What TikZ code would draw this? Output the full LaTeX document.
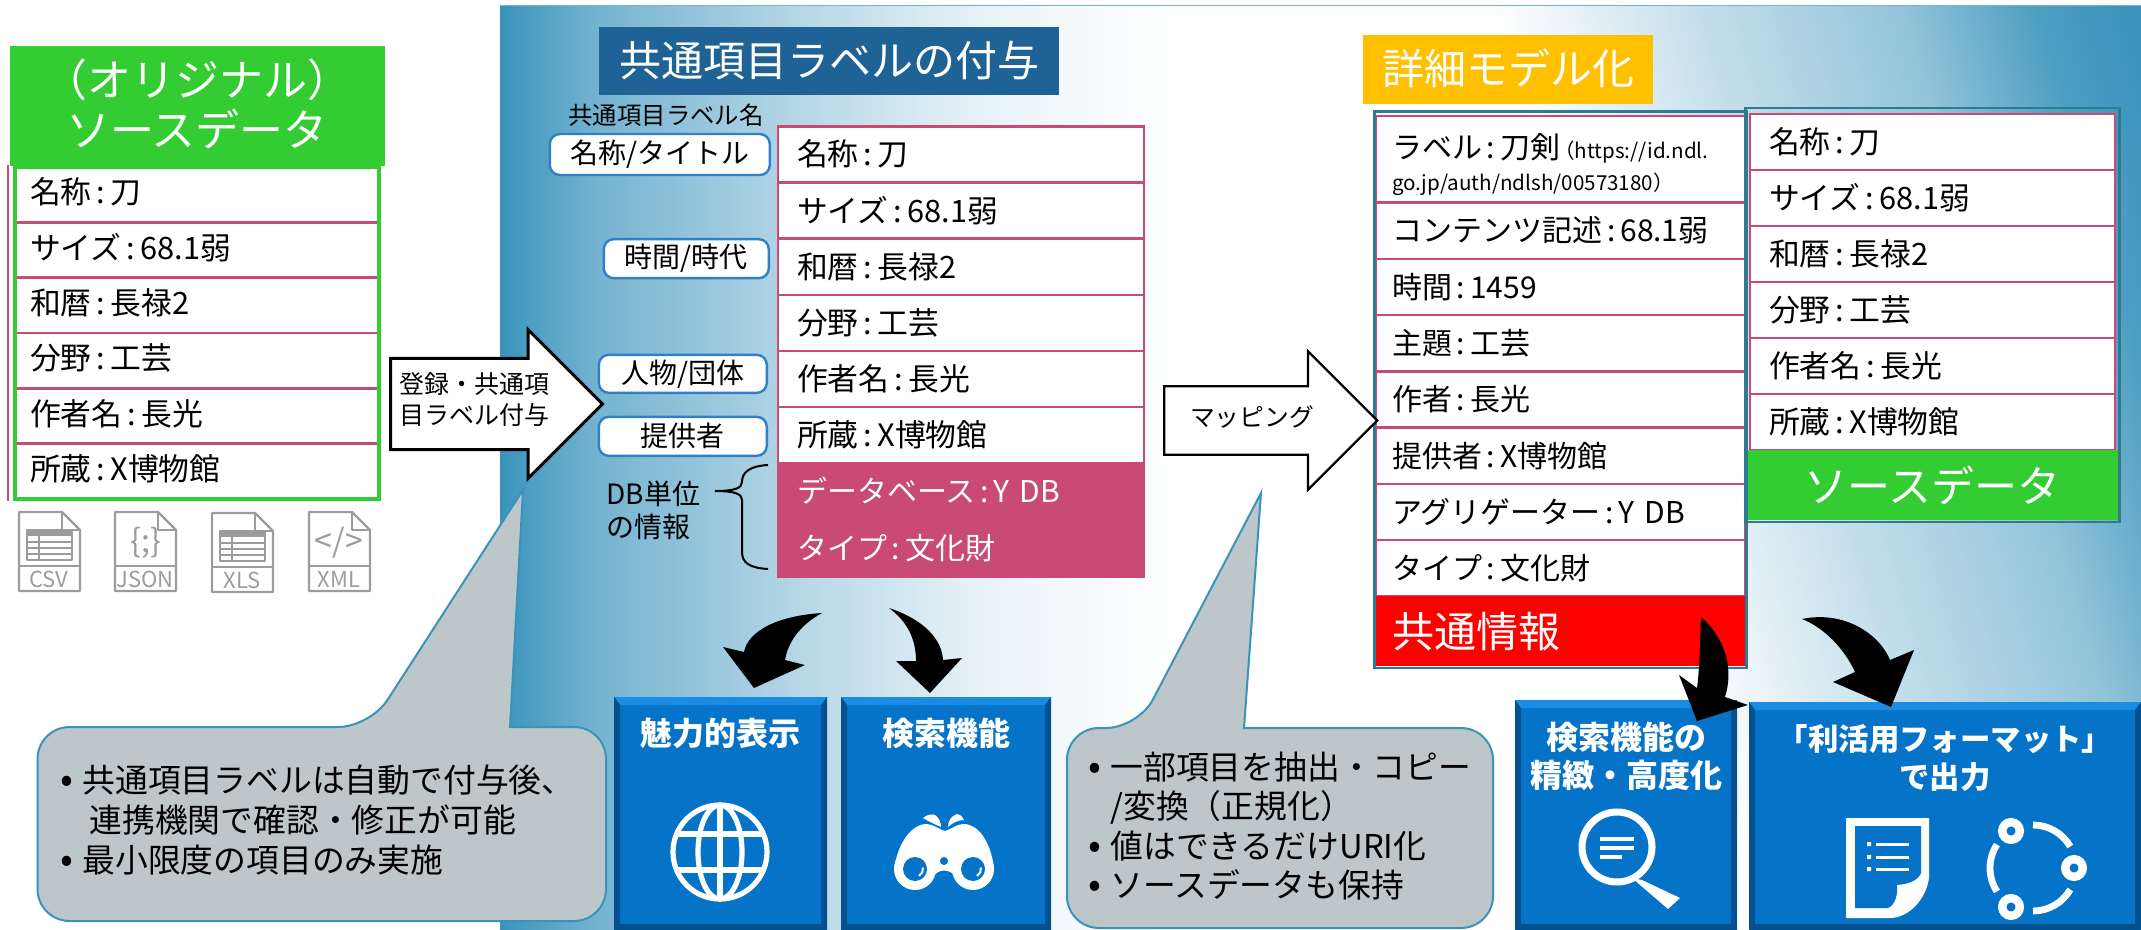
\documentclass[tikz,border=0pt]{standalone}
\usepackage{fontspec}
\setmainfont{Noto Sans CJK JP}
\usetikzlibrary{positioning,arrows.meta,calc,fit,shapes.arrows}
\definecolor{rowpink}{HTML}{C94A75}
\definecolor{srcgreen}{HTML}{33CC33}
\definecolor{pillblue}{HTML}{2F80C8}
\definecolor{titleblue}{HTML}{1F6295}
\definecolor{titleamber}{HTML}{FFC000}
\definecolor{frameteal}{HTML}{2F7A90}
\definecolor{calloutgrey}{HTML}{BDC7C9}
\definecolor{calloutline}{HTML}{3A93BC}
\definecolor{tileblue}{HTML}{0574C8}
\definecolor{tilelight}{HTML}{1B8CE4}
\definecolor{tiledark}{HTML}{05508F}
\definecolor{icongrey}{HTML}{9C9C9C}
\pgfdeclarehorizontalshading{bgsheenleft}{100bp}{
  color(0bp)=(calloutline);
  color(25bp)=(calloutline);
  color(32bp)=(calloutline!70!white);
  color(46bp)=(calloutline!38!white);
  color(58bp)=(calloutline!14!white);
  color(68bp)=(calloutline!3!white);
  color(75bp)=(white);
  color(100bp)=(white)}
\pgfdeclarehorizontalshading{bgsheenright}{100bp}{
  color(0bp)=(white);
  color(25bp)=(white);
  color(37.6bp)=(calloutline!30!white);
  color(50.3bp)=(calloutline!55!white);
  color(58.6bp)=(calloutline!90!white);
  color(64.5bp)=(calloutline);
  color(100bp)=(calloutline)}
\newcommand{\fs}[2]{\fontsize{#1}{#2}\selectfont}
\newcommand{\cn}{\,:\,}
\newcommand{\bul}{\makebox[11pt][l]{\fs{19}{19}•}}
\newcommand{\fileicon}[4]{%
  \begin{scope}[shift={(#1,#2)}]
    \draw[iconline] (0,0) -- (43,0) -- (61,18) -- (61,79) -- (0,79) -- cycle;
    \draw[iconline] (43,0) -- (43,18) -- (61,18);
    \draw[iconline] (0,54) -- (61,54);
    \node[iconlabel] (#3) at (30,67) {#4};
  \end{scope}}
\newcommand{\sheetglyph}[2]{%
  \begin{scope}[shift={(#1,#2)}]
    \fill[icongrey] (8,18) rectangle (53,24);
    \draw[iconline] (8,18) rectangle (53,48);
    \draw[iconline] (8,30) -- (53,30) (8,36) -- (53,36) (8,42) -- (53,42) (20,18) -- (20,48);
  \end{scope}}
\begin{document}
\begin{tikzpicture}[
  x=0.5pt, y=-0.5pt,
  rowcell/.style={rectangle, draw=rowpink, fill=white, line width=1.2pt, outer sep=0pt,
    minimum height=28pt, align=left, font=\fs{15.4}{18}},
  rowleft/.style={rowcell, text width=167pt, inner xsep=7.5pt, minimum height=27.67pt, text height=13pt, text depth=3.7pt},
  rowmid/.style={rowcell, text width=164pt, inner xsep=9.5pt, minimum height=28.04pt, text height=14pt, text depth=2.6pt},
  rowmidpink/.style={rowmid, fill=rowpink, text=white, minimum height=28.37pt, font=\fs{15}{18}},
  rowcommon/.style={rowcell, text width=168.5pt, inner xsep=8pt, minimum height=28.14pt, font=\fs{15}{18}},
  rowsource/.style={rowcell, text width=163.5pt, inner xsep=9.5pt},
  framebox/.style={rectangle, draw=frameteal, line width=1.2pt, inner sep=0.8pt},
  headbox/.style={rectangle, text=white, inner sep=0pt, outer sep=0pt, align=center},
  pill/.style={rectangle, draw=pillblue, fill=white, line width=1.2pt, rounded corners=5pt,
    inner sep=0pt, font=\fs{14}{16}},
  blockarrow/.style={single arrow, draw=black, fill=white, line width=1.5pt, inner xsep=0pt,
    single arrow tip angle=90, anchor=tail},
  arrowtext/.style={align=center, inner sep=0pt},
  bentarrow/.style={fill=black},
  callbox/.style={fill=calloutgrey, draw=calloutline, line width=1pt},
  calltext/.style={anchor=west, align=left, inner sep=0pt, font=\fs{16.4}{20}},
  tile/.style={rectangle, fill=tileblue, inner sep=0pt, outer sep=0pt, path picture={
    \fill[tilelight] (path picture bounding box.north west) -- (path picture bounding box.north east)
      -- ++(-3pt,-4pt) -- ($(path picture bounding box.north west)+(3pt,-4pt)$) -- cycle;
    \fill[tiledark] (path picture bounding box.north west) -- ++(3pt,-4pt)
      -- ($(path picture bounding box.south west)+(3pt,3pt)$) -- (path picture bounding box.south west) -- cycle;
    \fill[tiledark] (path picture bounding box.north east) -- ++(-3pt,-4pt)
      -- ($(path picture bounding box.south east)+(-3pt,3pt)$) -- (path picture bounding box.south east) -- cycle;
    \fill[tiledark] (path picture bounding box.south west) -- ++(3pt,3pt)
      -- ($(path picture bounding box.south east)+(-3pt,3pt)$) -- (path picture bounding box.south east) -- cycle;}},
  tiletext/.style={text=white, align=center, inner sep=0pt, font=\bfseries\fs{16}{19.2}},
  iconline/.style={draw=icongrey, line width=1.2pt, line join=round},
  iconlabel/.style={text=icongrey, inner sep=0pt, font=\fs{11}{12}},
  glyphwhite/.style={draw=white, line width=2.6pt},
]
  \useasboundingbox (0,0) rectangle (2141,930);

  % Background
  \begin{scope}
    \clip (500,6) rectangle (2141,930);
    \fill[white] (500,6) rectangle (2141,930);
    \begin{scope}[transform canvas={xslant=-0.29}]
      \shade[shading=bgsheenright] (1490,-100) rectangle (2300,1000);
    \end{scope}
    \shade[shading=bgsheenleft] (500,6) rectangle (1200,930);
  \end{scope}
  \draw[calloutline!70!white, line width=0.5pt] (500,6) -- (2141,6);

  % Original source data
  \node[rowleft, anchor=north west] (lrow1) at (15,167) {名称\cn 刀};
  \node[rowleft, below=0pt of lrow1] (lrow2) {サイズ\cn 68.1弱};
  \node[rowleft, below=0pt of lrow2] (lrow3) {和暦\cn 長禄2};
  \node[rowleft, below=0pt of lrow3] (lrow4) {分野\cn 工芸};
  \node[rowleft, below=0pt of lrow4] (lrow5) {作者名\cn 長光};
  \node[rowleft, below=0pt of lrow5] (lrow6) {所蔵\cn X博物館};
  \node[fit=(lrow1)(lrow6), draw=srcgreen, line width=2pt, inner sep=0pt] (lframe) {};
  \draw[rowpink, line width=0.8pt] (lframe.north west) ++(-5,0) -- ($(lframe.south west)+(-2.5pt,0)$);
  \node[headbox, fill=srcgreen, minimum width=187.5pt, minimum height=60pt, font=\fs{22}{25}, above=-0.5pt of lframe.north] (lhead) {\raisebox{3.4pt}{（オリジナル）}\\\raisebox{3.4pt}{ソースデータ}};
  \fileicon{19}{512}{iconcsv}{CSV}
  \sheetglyph{19}{512}
  \fileicon{115}{512}{iconjson}{JSON}
  \node[iconlabel, font=\fs{16}{18}] (glyphjson) at (146,543) {\{;\}};
  \fileicon{212}{513}{iconxls}{XLS}
  \sheetglyph{212}{513}
  \fileicon{309}{512}{iconxml}{XML}
  \node[iconlabel, font=\fs{16}{18}] (glyphxml) at (339,543) {</>};

  % Common labels
  \node[headbox, fill=titleblue, minimum width=230pt, minimum height=34pt, font=\fs{21}{25}] (labeltitle) at (829,61) {\raisebox{2.5pt}{共通項目ラベルの付与}};
  \node[inner sep=0pt, font=\fs{12.2}{14}] (labelname) at (666,115) {共通項目ラベル名};
  \node[rowmid, anchor=north west] (mrow1) at (778,126.5) {名称\cn 刀};
  \node[rowmid, below=0pt of mrow1] (mrow2) {サイズ\cn 68.1弱};
  \node[rowmid, below=0pt of mrow2] (mrow3) {和暦\cn 長禄2};
  \node[rowmid, below=0pt of mrow3] (mrow4) {分野\cn 工芸};
  \node[rowmid, below=0pt of mrow4] (mrow5) {作者名\cn 長光};
  \node[rowmid, below=0pt of mrow5] (mrow6) {所蔵\cn X博物館};
  \node[rowmidpink, below=0pt of mrow6] (mrow7) {データベース\cn Y DB};
  \node[rowmidpink, below=0pt of mrow7] (mrow8) {タイプ\cn 文化財};
  \node[pill, minimum width=110pt, minimum height=20.5pt, left=3.5pt of mrow1] (pillname) {\raisebox{1pt}{名称/タイトル}};
  \node[pill, minimum width=82.5pt, minimum height=19.5pt, left=4pt of mrow3, yshift=4pt] (pilltime) {\raisebox{2pt}{時間/時代}};
  \node[pill, minimum width=84pt, minimum height=19pt, left=5pt of mrow5, yshift=2.5pt] (pillagent) {\raisebox{2pt}{人物/団体}};
  \node[pill, minimum width=84pt, minimum height=19.5pt, left=5pt of mrow6, yshift=-0.7pt] (pillprov) {\raisebox{1.5pt}{提供者}};
  \coordinate (bracetop) at (768,465);
  \coordinate (braceend) at (768,569);
  \coordinate (bracetip) at (715,491);
  \draw[black, line width=1pt] (bracetop) .. controls (750,466) and (742,472) .. (742,482)
    .. controls (742,488) and (735,491) .. (bracetip) .. controls (735,491) and (742,494) .. (742,500)
    -- (742,552) .. controls (742,563) and (750,568) .. (braceend);
  \node[anchor=west, align=left, inner sep=0pt, font=\fs{14}{16.5}] (dbnote) at (606,510) {DB単位\\の情報};

  % Detailed model
  \node[headbox, fill=titleamber, minimum width=144.75pt, minimum height=34.5pt, font=\fs{21}{25}] (modeltitle) at (1508,69.5) {\raisebox{3pt}{詳細モデル化}};
  \node[rowcommon, anchor=north west, minimum height=42.5pt] (crow1) at (1376,116) {\rule{0pt}{18pt}ラベル\cn 刀剣{\hspace{-3pt}\fs{10.3}{17}（https://id.ndl.\\[-2pt]go.jp/auth/ndlsh/00573180）}};
  \node[rowcommon, below=0pt of crow1] (crow2) {コンテンツ記述\cn 68.1弱};
  \node[rowcommon, below=0pt of crow2] (crow3) {時間\cn 1459};
  \node[rowcommon, below=0pt of crow3] (crow4) {主題\cn 工芸};
  \node[rowcommon, below=0pt of crow4] (crow5) {作者\cn 長光};
  \node[rowcommon, below=0pt of crow5] (crow6) {提供者\cn X博物館};
  \node[rowcommon, below=0pt of crow6] (crow7) {アグリゲーター\cn Y DB};
  \node[rowcommon, below=0pt of crow7] (crow8) {タイプ\cn 文化財};
  \node[rectangle, fill=red, text=white, anchor=north west, minimum width=184.5pt, minimum height=35pt, inner xsep=8pt, text width=168.5pt, outer sep=0pt, font=\fs{21}{24}, below=0pt of crow8] (credbox) {\raisebox{2pt}{共通情報}};
  \coordinate (cframetop) at (1560,113);
  \node[framebox, fit=(cframetop)(crow1)(credbox)] (cframe) {};
  \node[rowsource, anchor=north west] (srow1) at (1750,114) {名称\cn 刀};
  \node[rowsource, below=0pt of srow1] (srow2) {サイズ\cn 68.1弱};
  \node[rowsource, below=0pt of srow2] (srow3) {和暦\cn 長禄2};
  \node[rowsource, below=0pt of srow3] (srow4) {分野\cn 工芸};
  \node[rowsource, below=0pt of srow4] (srow5) {作者名\cn 長光};
  \node[rowsource, below=0pt of srow5] (srow6) {所蔵\cn X博物館};
  \node[headbox, fill=srcgreen, minimum width=185pt, minimum height=35pt, font=\fs{21.5}{25}, below=0pt of srow6] (shead) {ソースデータ};
  \coordinate (sframetop) at (1930,110);
  \node[framebox, fit=(sframetop)(srow1)(shead), inner sep=1pt] (sframe) {};

  % Block arrows
  \node[blockarrow, inner ysep=22pt, minimum height=106pt, single arrow head extend=14.5pt] (regarrow) at (389,404) {};
  \node[arrowtext, font=\fs{12.5}{15.5}] (regtext) at (474,400) {登録・共通項\\目ラベル付与};
  \node[blockarrow, inner ysep=16.5pt, line width=1.2pt, minimum height=106.5pt, single arrow head extend=17.5pt] (maparrow) at (1163,420.5) {};
  \node[arrowtext, font=\fs{12.4}{15}] (maptext) at (1252,417) {マッピング};

  % Notes
  \coordinate (calltipA) at (523,490);
  \draw[callbox, rounded corners=16pt] (510,727) -- (606,727) -- (606,921) -- (37.5,921) -- (37.5,727) -- (370,727) [sharp corners] -- (calltipA) -- cycle;
  \node[calltext] (noteA) at (60,820) {\bul 共通項目ラベルは自動で付与後、\\\hspace{14.5pt}連携機関で確認・修正が可能\\\bul 最小限度の項目のみ実施};
  \coordinate (calltipB) at (1261,493);
  \draw[callbox, rounded corners=16pt] (1244,728) -- (1493,728) -- (1493,928) -- (1067,928) -- (1067,728) -- (1138,728) [sharp corners] -- (calltipB) -- cycle;
  \node[calltext, font=\fs{16.4}{19.6}] (noteB) at (1088,826) {\bul 一部項目を抽出・コピー\\\hspace{11pt}/変換（正規化）\\\bul 値はできるだけURI化\\\bul ソースデータも保持};

  % Function tiles
  \node[tile, anchor=north west, minimum width=106.5pt, minimum height=116.5pt] (tileshow) at (614,697) {};
  \node[tile, minimum width=105pt, minimum height=116.5pt, right=7pt of tileshow] (tilesearch) {};
  \node[tile, anchor=north west, minimum width=111pt, minimum height=115pt] (tilerefine) at (1515,700) {};
  \node[tile, anchor=north west, minimum width=196pt, minimum height=114pt] (tileoutput) at (1749,702) {};
  \node[tiletext] (showtext) at ($(tileshow.north)+(0,36)$) {魅力的表示};
  \node[tiletext] (searchtext) at ($(tilesearch.north)+(0,36)$) {検索機能};
  \node[tiletext, font=\bfseries\fs{16}{19.2}] (refinetext) at ($(tilerefine.north)+(0,56)$) {検索機能の\\精緻・高度化};
  \node[tiletext, font=\bfseries\fs{15.2}{19.4}] (outputtext) at ($(tileoutput.north)+(0,56)$) {「利活用フォーマット」\\で出力};

  % Globe
  \draw[glyphwhite] (720,852) circle (23.5pt);
  \draw[glyphwhite] (720,852) ellipse (11pt and 23.5pt);
  \draw[glyphwhite] (720,805) -- (720,899) (677,834) -- (763,834) (677,870) -- (763,870);
  % Binoculars
  \fill[white] (894,869) .. controls (897,848) and (908,826) .. (925,824) .. controls (934,824) and (940,830) .. (945,831)
    .. controls (950,830) and (956,824) .. (965,824) .. controls (982,826) and (992,848) .. (994,869)
    -- (973,869) -- (957,878) .. controls (950,868) and (938,868) .. (932,878) -- (915,869) -- cycle;
  \fill[white] (915,869) circle (10.5pt) (973,869) circle (10.5pt);
  \fill[white] (923,818) .. controls (928,814) and (932,814) .. (935,815) .. controls (939,818) and (941,822) .. (941,827) .. controls (934,824) and (928,821) .. cycle;
  \fill[white] (948,827) .. controls (948,821) and (951,816) .. (957,814) .. controls (961,815) and (963,817) .. (964,820) .. controls (958,820) and (952,823) .. cycle;
  \fill[tileblue] (915,869) circle (6pt) (973,869) circle (6pt) (944,861) circle (2pt);
  \draw[white, line width=1pt] (915,869) ++(-60:4pt) arc (-60:10:4pt);
  \draw[white, line width=1pt] (973,869) ++(-60:4pt) arc (-60:10:4pt);
  % Magnifier
  \draw[glyphwhite, line width=3.5pt] (1617,847) circle (17.5pt);
  \draw[glyphwhite, line width=2pt] (1600,839) -- (1634,839) (1600,848) -- (1634,848) (1600,857) -- (1622,857);
  \fill[white] (1632,878) -- (1642,880) -- (1680,898) -- (1668,909) -- cycle;
  % Document
  \fill[white] (1846,818) -- (1929,818) -- (1929,878) .. controls (1926,900) and (1908,918) .. (1890,918) -- (1846,918) -- cycle;
  \fill[tileblue] (1855,826) -- (1921,826) -- (1921,873) .. controls (1918,881) and (1908,884) .. (1897,885) .. controls (1898,895) and (1895,905) .. (1888,908) -- (1855,908) -- cycle;
  \draw[glyphwhite, line width=1.5pt] (1876,844) -- (1909,844) (1876,857) -- (1909,857) (1876,869) -- (1909,869);
  \fill[white] (1867,842) rectangle (1871,846) (1867,855) rectangle (1871,859) (1867,867) rectangle (1871,871);
  % Share ring
  \draw[glyphwhite, line width=3.4pt] (2033,868) ++(90:21.5pt) arc (90:30:21.5pt);
  \draw[glyphwhite, line width=3.4pt] (2033,868) ++(-30:21.5pt) arc (-30:-90:21.5pt);
  \draw[glyphwhite, line width=3.4pt] (2033,868) ++(147:21.5pt) arc (147:213:21.5pt);
  \draw[white, fill=tileblue, line width=4.2pt] (2011,831) circle (4.4pt) (2074,868) circle (4.4pt) (2011,907) circle (4.4pt);

  % Bent arrows
  \coordinate (tailshow) at (822,613);
  \coordinate (tipshow) at (754,688);
  \fill[bentarrow] (tailshow) .. controls (775,616) and (748,632) .. (744,652) -- (723,647) -- (tipshow) -- (805,665) -- (785,660) .. controls (788,642) and (800,625) .. cycle;
  \coordinate (tailsearch) at (889,608);
  \coordinate (tipsearch) at (930,693);
  \fill[bentarrow] (tailsearch) .. controls (908,622) and (916,640) .. (916,661) -- (896,661) -- (tipsearch) -- (962,658) -- (943,660) .. controls (942,640) and (925,620) .. cycle;
  \coordinate (tailrefine) at (1701,617);
  \coordinate (tiprefine) at (1697,721);
  \fill[bentarrow] (tailrefine) .. controls (1700,640) and (1700,665) .. (1697,688) -- (1679,675) -- (tiprefine) -- (1748,705) -- (1725,697) .. controls (1735,665) and (1722,635) .. cycle;
  \coordinate (tailoutput) at (1802,619);
  \coordinate (tipoutput) at (1891,707);
  \fill[bentarrow] (tailoutput) .. controls (1825,628) and (1845,650) .. (1855,672) -- (1833,682) -- (tipoutput) -- (1914,650) -- (1890,660) .. controls (1880,635) and (1845,610) .. cycle;
\end{tikzpicture}
\end{document}
